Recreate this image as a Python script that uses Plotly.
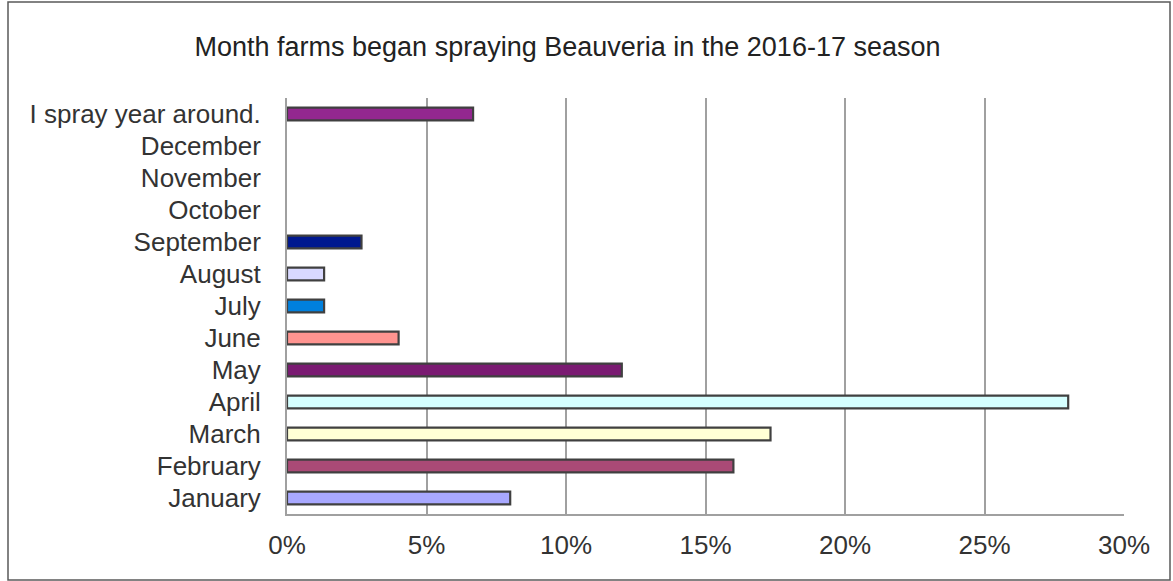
import plotly.graph_objects as go

categories = ["January", "February", "March", "April", "May", "June", "July",
              "August", "September", "October", "November", "December",
              "I spray year around."]
values = [8.0, 16.0, 17.33, 28.0, 12.0, 4.0, 1.33, 1.33, 2.67, 0, 0, 0, 6.67]
colors = ["#A8A8FF", "#AA4A76", "#FFFFD5", "#D5FFFF", "#7A1A72", "#FF9490",
          "#0080DD", "#D9D9FF", "#00188F", "#FFFFFF", "#FFFFFF", "#FFFFFF",
          "#93278F"]
tick_vals = [0, 5, 10, 15, 20, 25, 30]
tick_text = ["0%", "5%", "10%", "15%", "20%", "25%", "30%"]
title_text = "Month farms began spraying Beauveria in the 2016-17 season"

bar_vals = [v if v > 0 else None for v in values]

fig = go.Figure(go.Bar(
    y=categories, x=bar_vals, orientation="h",
    marker=dict(color=colors, line=dict(color="#404040", width=2.2)),
    width=0.4,
))

L, R, T, B = 287, 49, 98, 67
W, H = 1173, 581
pw, ph = W - L - R, H - T - B

fig.update_layout(
    width=W, height=H,
    margin=dict(l=L, r=R, t=T, b=B),
    paper_bgcolor="white", plot_bgcolor="white",
    showlegend=False,
    font=dict(family="Liberation Sans, Arial, sans-serif", color="#333333"),
    title=dict(text=title_text, x=567.5 / W, xanchor="center", xref="container",
               y=1 - 47 / H, yanchor="middle", yref="container",
               font=dict(size=27, color="#222222")),
    xaxis=dict(range=[0, 30], tickvals=tick_vals, ticktext=tick_text,
               showgrid=True, gridcolor="#A0A0A0", gridwidth=1.5,
               showline=True, linecolor="#A0A0A0", linewidth=2,
               zeroline=False, ticks="", tickfont=dict(size=26, color="#333333"),
               ticklabelstandoff=7, fixedrange=True),
    yaxis=dict(categoryorder="array", categoryarray=categories,
               range=[-0.5, 12.5], showgrid=False,
               showline=True, linecolor="#A0A0A0", linewidth=2,
               ticks="", tickfont=dict(size=26, color="#333333"),
               ticklabelstandoff=19, fixedrange=True),
    shapes=[dict(type="rect", xref="paper", yref="paper",
                 x0=(8 - L) / pw, x1=(1170 - L) / pw,
                 y0=(H - B - 580) / ph, y1=(H - B - 2) / ph,
                 line=dict(color="#5A5A5A", width=1.5), fillcolor="rgba(0,0,0,0)",
                 layer="below")],
)

fig.write_html("out.html",
               config={"displayModeBar": False},
               post_script="document.body.style.margin='0';document.body.style.overflow='hidden';")
